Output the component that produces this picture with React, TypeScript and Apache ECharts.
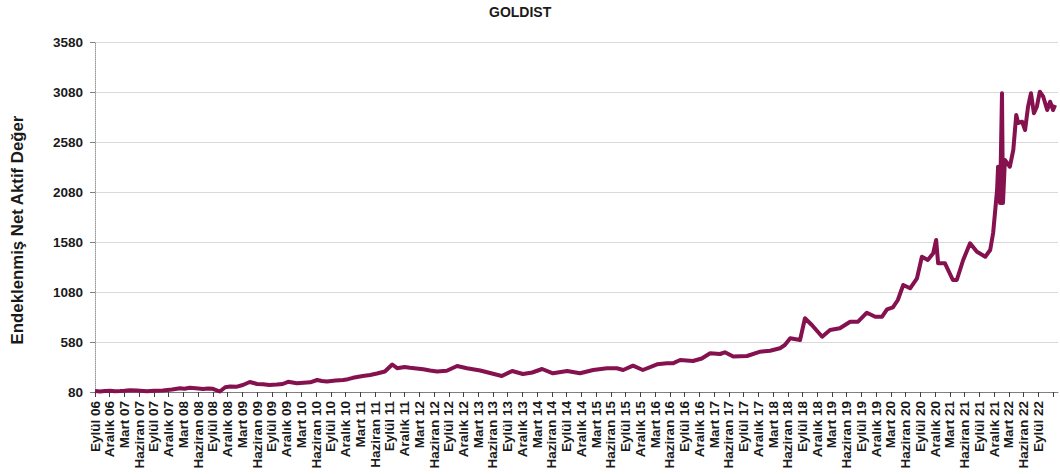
import React, { useEffect, useRef } from "react";
import * as echarts from "echarts";

const chartTitle = "GOLDIST";
const yAxisTitle = "Endeklenmiş Net Aktif Değer";

const quarterLabels = [
  "Eylül 06", "Aralık 06", "Mart 07", "Haziran 07", "Eylül 07", "Aralık 07",
  "Mart 08", "Haziran 08", "Eylül 08", "Aralık 08", "Mart 09", "Haziran 09",
  "Eylül 09", "Aralık 09", "Mart 10", "Haziran 10", "Eylül 10", "Aralık 10",
  "Mart 11", "Haziran 11", "Eylül 11", "Aralık 11", "Mart 12", "Haziran 12",
  "Eylül 12", "Aralık 12", "Mart 13", "Haziran 13", "Eylül 13", "Aralık 13",
  "Mart 14", "Haziran 14", "Eylül 14", "Aralık 14", "Mart 15", "Haziran 15",
  "Eylül 15", "Aralık 15", "Mart 16", "Haziran 16", "Eylül 16", "Aralık 16",
  "Mart 17", "Haziran 17", "Eylül 17", "Aralık 17", "Mart 18", "Haziran 18",
  "Eylül 18", "Aralık 18", "Mart 19", "Haziran 19", "Eylül 19", "Aralık 19",
  "Mart 20", "Haziran 20", "Eylül 20", "Aralık 20", "Mart 21", "Haziran 21",
  "Eylül 21", "Aralık 21", "Mart 22", "Haziran 22", "Eylül 22",
];

const yTickValues = [80, 580, 1080, 1580, 2080, 2580, 3080, 3580];

// months elapsed since September 2006
const monthIndex = [
  0, 1, 2, 3.1, 4, 5.1, 6, 7.1, 8.5, 10.6, 12, 13.8, 15.7, 17.3, 18.2, 19.3,
  20.5, 22.0, 23.0, 24.0, 25.4, 26.5, 27.5, 28.9, 30.1, 31.5, 33.0, 34.2, 35.5,
  37.0, 38.2, 39.3, 41.1, 43.8, 45.2, 46.2, 47.2, 49.0, 50.5, 51.5, 52.5, 54.5,
  56.0, 57.4, 59.0, 60.5, 61.5, 63.0, 64.1, 66.8, 68.2, 69.6, 71.6, 73.7, 75.7,
  78.4, 80.4, 82.8, 84.9, 87.1, 89.0, 91.0, 93.2, 96.1, 98.7, 101.4, 104.2,
  106.2, 107.5, 109.5, 111.5, 114.4, 116.4, 117.6, 119.1, 121.7, 123.5, 125.2,
  127.2, 128.2, 129.9, 132.7, 135.4, 137.4, 139.4, 140.4, 141.5, 143.5, 144.5,
  145.9, 148.0, 149.6, 151.6, 153.7, 155.3, 157.1, 158.8, 160.2, 161.2, 162.4,
  163.4, 164.5, 165.9, 167.3, 168.3, 169.5, 170.6, 171.2, 171.6, 173.0, 174.6,
  175.4, 176.7, 178.1, 179.5, 181.2, 182.2, 182.8, 183.6, 183.8, 184.2, 184.6,
  184.8, 185.2, 186.2, 186.9, 187.5, 187.9, 188.7, 189.3, 189.9, 190.5, 191.1,
  191.7, 192.3, 193.0, 193.8, 194.4, 195.0, 195.4,
];

const navValues = [
  90, 86, 91, 92, 88, 90, 93, 98, 94, 88, 92, 95, 105, 117, 112, 122,
  118, 110, 116, 112, 85, 128, 135, 133, 150, 180, 160, 157, 150,
  154, 160, 182, 167, 177, 200, 190, 185, 195, 200, 208, 222, 240,
  250, 265, 285, 355, 318, 330, 322, 307, 295, 285, 293, 340, 318,
  295, 270, 240, 290, 260, 275, 310, 267, 290, 267, 300, 317,
  317, 300, 343, 300, 357, 367, 367, 400, 390, 415, 467,
  460, 477, 435, 440, 483, 493, 517, 550, 617, 600, 817,
  750, 633, 700, 717, 783, 783, 873, 833, 833, 907, 927,
  1000, 1150, 1117, 1217, 1433, 1400, 1467, 1600, 1367, 1367, 1200,
  1200, 1400, 1567, 1483, 1433, 1500, 1670, 2100, 2333, 1970, 3067,
  1970, 2400, 2333, 2500, 2850, 2770, 2783, 2700, 2933, 3067, 2867,
  2933, 3083, 3033, 2900, 2983, 2900, 2950,
];

const FONT = "'Liberation Sans', Arial, sans-serif";
const TEXT = "#1a1a1a";

export default function App() {
  const ref = useRef<HTMLDivElement>(null);

  useEffect(() => {
    if (!ref.current) return;
    const chart = echarts.init(ref.current, null, { renderer: "svg" });
    const seriesData = monthIndex.map((m, i) => [m, navValues[i]]);
    chart.setOption({
      animation: false,
      backgroundColor: "#ffffff",
      title: {
        text: chartTitle,
        left: 489,
        top: 5,
        padding: 0,
        textStyle: { fontFamily: FONT, fontSize: 14, fontWeight: "bold", color: TEXT },
      },
      graphic: [
        {
          type: "text",
          x: 17,
          y: 230,
          rotation: Math.PI / 2,
          style: {
            text: yAxisTitle,
            font: `bold 16.8px ${FONT}`,
            fill: TEXT,
            align: "center",
            verticalAlign: "middle",
          },
        },
      ],
      grid: { left: 95, right: 2, top: 42, bottom: 82 },
      xAxis: {
        type: "value",
        min: 0,
        max: 196,
        interval: 3,
        axisLine: { show: true, lineStyle: { color: "#808080", width: 1 } },
        axisTick: { show: true, length: 5, lineStyle: { color: "#404040" } },
        splitLine: { show: false },
        axisLabel: {
          rotate: 90,
          margin: 9,
          fontFamily: FONT,
          fontSize: 13.5,
          fontWeight: "bold",
          color: TEXT,
          showMaxLabel: false,
          formatter: (v: number) => {
            if (Math.abs(v % 3) > 1e-6) return "";
            const q = Math.round(v / 3);
            return quarterLabels[q] ?? "";
          },
        },
      },
      yAxis: {
        type: "value",
        min: 80,
        max: 3580,
        axisLine: { show: true, lineStyle: { color: "#9a9a9a", width: 1, type: "dotted" } },
        axisTick: { show: true, length: 5, customValues: yTickValues, lineStyle: { color: "#808080" } },
        splitLine: { show: true, lineStyle: { color: "#d9d9d9", width: 1 } },
        axisLabel: {
          customValues: yTickValues,
          margin: 12,
          fontFamily: FONT,
          fontSize: 13.5,
          fontWeight: "bold",
          color: TEXT,
          formatter: (v: number) => String(v),
        },
      },
      series: [
        {
          type: "line",
          data: seriesData,
          showSymbol: false,
          symbol: "none",
          lineStyle: { color: "#85114f", width: 4, join: "round" },
          itemStyle: { color: "#85114f" },
        },
      ],
    });
    return () => chart.dispose();
  }, []);

  return (
    <div
      ref={ref}
      style={{ position: "absolute", left: 0, top: 0, width: 1060, height: 474 }}
    />
  );
}
